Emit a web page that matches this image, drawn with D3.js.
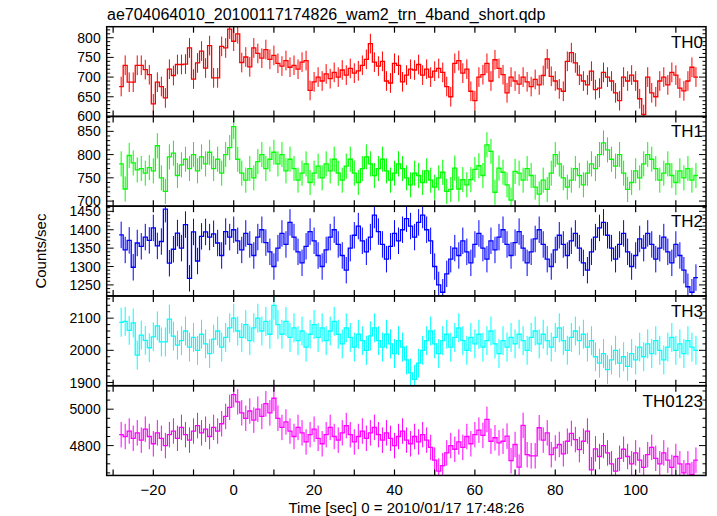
<!DOCTYPE html>
<html><head><meta charset="utf-8">
<script src="https://cdn.jsdelivr.net/npm/d3@7"></script>
<style>body{margin:0;background:#fff}svg{display:block}text{font-family:"Liberation Sans",Arial,Helvetica,sans-serif}</style>
</head><body><div id="chart"></div>
<script>
const title = "ae704064010_20100117174826_wam2_trn_4band_short.qdp";
const xLabel = "Time [sec] 0 = 2010/01/17 17:48:26";
const yLabel = "Counts/sec";
const panelNames = ["TH0","TH1","TH2","TH3","TH0123"];
const panelColors = ["#ff0000","#00ff00","#0000ff","#00ffff","#ff00ff"];
const tStart = -28; // first bin centre [s], bins of 1 s
const xTicks = [-20,0,20,40,60,80,100];

const th0 = [676,730,687,687,730,730,719,706,632,687,676,647,720,704,732,732,733,774,695,736,766,723,780,698,698,778,774,822,791,810,737,751,726,774,
760,748,770,745,755,735,728,742,725,730,720,738,742,666,688,700,690,708,696,712,700,718,705,722,710,716,730,745,785,738,728,740,690,685,735,730,688,705,720,
718,732,705,720,700,715,722,712,676,650,735,742,710,720,664,640,700,706,735,690,744,722,706,660,700,690,682,700,688,676,694,680,704,746,702,690,670,664,740,762,736,705,690,680,715,668,672,712,700,690,660,640,700,690,705,690,645,605,700,660,650,690,700,680,712,705,672,665,690,725,700];
const th1 = [780,726,798,782,767,770,760,772,765,819,750,721,795,803,755,
778,790,770,800,765,795,780,805,770,790,760,800,815,
860,790,760,745,770,750,785,800,770,790,805,780,800,765,790,770,745,760,780,740,760,775,750,780,765,790,760,745,775,790,760,740,770,795,780,755,770,790,765,745,760,780,770,750,735,760,755,740,765,745,730,750,
762,721,725,771,726,746,735,746,768,776,755,821,807,719,771,762,735,702,764,
760,745,770,755,730,715,745,725,760,800,780,750,730,745,770,755,735,760,780,770,800,825,810,790,775,800,760,725,740,765,750,780,800,790,770,745,760,780,755,740,765,750,770,745,755];
const th2 = [1386,1345,1371,1298,1364,1355,1380,1371,1405,1356,1368,1456,1309,1347,1391,1350,1414,1268,1394,1315,1382,1394,1380,1389,1364,
1330,1395,1380,1400,1370,1345,1390,1360,1330,1380,1400,1365,1340,1300,1350,1390,1360,1420,1380,1340,1310,1355,1395,1370,1330,1300,1345,1380,1400,1360,1330,1290,1350,1385,1410,1370,1340,1380,1440,1395,1360,1320,1355,1390,1370,1400,1430,1410,1380,1420,1440,1400,1370,1300,1250,1230,1280,1320,1350,1330,1370,1340,1310,1360,1390,1350,1320,1370,1345,1380,1400,1360,1330,1365,1395,1350,1310,1340,1375,1400,1360,1320,1300,1345,1385,1360,1330,1370,1390,1350,1310,1290,1340,1380,1405,1420,1385,1350,1320,1360,1390,1340,1300,1330,1375,1350,1390,1360,1320,1350,1380,1340,1310,1360,1330,1290,1245,1230,1270];
const th3 = [2087,2090,2062,2085,1985,2047,2031,2008,2042,2076,2026,2026,2097,2044,2016,
2030,2060,2010,2040,2000,2050,2020,1990,2035,2060,2010,2040,2070,2100,2060,2040,2080,2030,2070,2100,2060,2090,2050,2140,2080,2050,2090,2040,2070,2030,2060,2010,2050,2080,2040,2070,2030,2060,2090,2050,2020,2070,2040,2010,2050,2030,2000,2045,2070,2030,2010,2050,2020,1990,2030,2010,1970,1930,1910,1960,2000,2030,2060,2020,1990,2030,2050,2010,2040,2070,2030,2000,2040,2020,2050,2010,2030,2060,2020,1990,2030,2010,2040,2020,2050,2030,2000,2040,2060,2020,2050,2030,2010,2040,2070,2030,2000,2040,2060,2030,2050,2010,2030,1980,1960,1990,1940,1970,2000,1960,1980,1950,1990,1970,2010,1980,2020,1990,2030,2000,1970,2010,2040,2000,2020,1990,2030,2010,2000];
const th0123 = [4860,4850,4880,4840,4870,4830,4890,4850,4810,4870,4840,4800,4860,4880,4840,4900,4860,4830,4880,4910,4870,4890,4850,4900,4880,4920,4960,5010,
5080,5040,4980,4950,4990,4940,5000,4960,5030,4980,5060,4950,4900,4930,4880,4850,4900,4870,4820,4860,4890,4840,4810,4860,4900,4850,4830,4870,4910,4860,4820,4850,4880,4840,4870,4900,4860,4830,4870,4840,4800,4850,4880,4830,4810,4850,4820,4860,4830,4790,4720,4660,4690,4760,4800,4780,4820,4790,4850,4810,4860,4885,
4856,4944,4824,4843,4815,4824,4852,4717,4806,4682,4911,4750,4744,4744,4898,4830,4870,4750,4787,4806,4755,4824,4867,4833,4778,4824,4880,4667,4782,
4740,4800,4760,4700,4660,4730,4780,4740,4700,4760,4720,4680,4750,4790,4730,4700,4760,4720,4680,4740,4700,4650,4700,4640,4720];
const errHalf = [25,27,36,45,70];
const yDomains = [[600,828],[689,882],[1220,1464],[1890,2169],[4636,5129]];
const yMajor = [[600,650,700,750,800],[700,750,800,850],[1250,1300,1350,1400,1450],[1900,2000,2100],[4800,5000]];
const yMinorStep = [10,10,10,20,50];
const series = [th0,th1,th2,th3,th0123];

const W=717,H=516;
const L=106.7,R=706,T=26.7,PH=89.75;
const svg=d3.select("#chart").append("svg").attr("width",W).attr("height",H);
const x=d3.scaleLinear().domain([-31.6,117.5]).range([L,R]);

svg.append("text").attr("x",107).attr("y",20).attr("font-size",16).attr("fill","#000").text(title);

series.forEach((vals,p)=>{
  const top=T+p*PH, bot=top+PH;
  const y=d3.scaleLinear().domain(yDomains[p]).range([bot,top]);
  const g=svg.append("g");
  const cid="clip"+p;
  svg.append("clipPath").attr("id",cid).append("rect").attr("x",L).attr("y",top).attr("width",R-L).attr("height",PH);
  const dg=g.append("g").attr("clip-path",`url(#${cid})`);
  const col=panelColors[p];
  const data=vals.map((v,i)=>({t:tStart+i,v}));
  dg.selectAll("line.err").data(data).enter().append("line")
    .attr("x1",d=>x(d.t)).attr("x2",d=>x(d.t))
    .attr("y1",d=>y(d.v-errHalf[p])).attr("y2",d=>y(d.v+errHalf[p]))
    .attr("stroke",col).attr("stroke-width",1);
  const pts=[];
  data.forEach(d=>{pts.push([x(d.t-0.5),y(d.v)]);pts.push([x(d.t+0.5),y(d.v)]);});
  dg.append("path").attr("d",d3.line()(pts)).attr("fill","none").attr("stroke",col).attr("stroke-width",1.3);
  const ax=g.append("g").attr("stroke","#000");
  d3.range(-30,120,10).forEach(t=>{
    const xx=x(t);
    ax.append("line").attr("x1",xx).attr("x2",xx).attr("y1",bot).attr("y2",bot-6).attr("stroke-width",1.2);
    ax.append("line").attr("x1",xx).attr("x2",xx).attr("y1",top).attr("y2",top+6).attr("stroke-width",1.2);
  });
  const [y0,y1]=yDomains[p];
  for(let v=Math.ceil(y0/yMinorStep[p])*yMinorStep[p]; v<=y1; v+=yMinorStep[p]){
    const yy=y(v); const maj=yMajor[p].includes(v)||(v%50===0&&p<3)||(p===3&&v%100===0)||(p===4&&v%200===0);
    const len=maj?7:3.5;
    ax.append("line").attr("x1",L).attr("x2",L+len).attr("y1",yy).attr("y2",yy).attr("stroke-width",1);
    ax.append("line").attr("x1",R).attr("x2",R-len).attr("y1",yy).attr("y2",yy).attr("stroke-width",1);
  }
  yMajor[p].forEach(v=>{
    g.append("text").attr("x",L-6).attr("y",y(v)).attr("dy","0.36em").attr("text-anchor","end")
      .attr("font-size",14).attr("fill","#000").text(v);
  });
  g.append("rect").attr("x",L).attr("y",top).attr("width",R-L).attr("height",PH)
    .attr("fill","none").attr("stroke","#000").attr("stroke-width",1.5);
  g.append("text").attr("x",R-3).attr("y",top+21).attr("text-anchor","end").attr("font-size",17).attr("fill","#000").text(panelNames[p]);
});

const bottom=T+5*PH;
xTicks.forEach(t=>{
  svg.append("text").attr("x",x(t)).attr("y",bottom+20).attr("text-anchor","middle").attr("font-size",15).attr("fill","#000")
    .text(t<0?"\u2212"+Math.abs(t):t);
});
svg.append("text").attr("x",(L+R)/2).attr("y",bottom+38).attr("text-anchor","middle").attr("font-size",15).attr("fill","#000").text(xLabel);
svg.append("text").attr("transform",`translate(46,${T+2.5*PH}) rotate(-90)`).attr("text-anchor","middle").attr("font-size",15).attr("fill","#000").text(yLabel);
</script></body></html>
